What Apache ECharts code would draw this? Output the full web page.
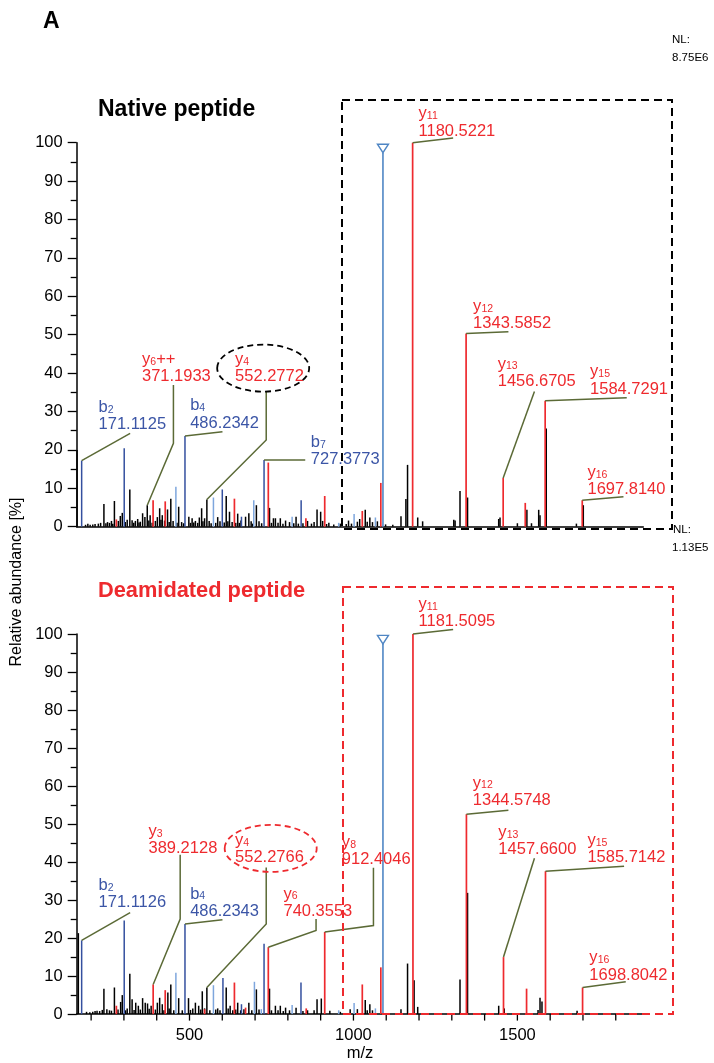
<!DOCTYPE html>
<html>
<head>
<meta charset="utf-8">
<title>Native vs deamidated peptide MS/MS</title>
<script src="https://cdn.jsdelivr.net/npm/echarts@6/dist/echarts.min.js"></script>
<style>
  html, body { margin: 0; padding: 0; background: #fff; }
  #chart { width: 714px; height: 1063px; }
</style>
</head>
<body>
<div id="chart"></div>
<script>
// x axis: m/z ticks and labels
const xTicks = [200, 300, 400, 500, 600, 700, 800, 900, 1000, 1100, 1200, 1300, 1400, 1500, 1600, 1700, 1800];
const xLabels = [500, 1000, 1500];

// peaks as [m/z, relative abundance %]
const nativeBlack = [[157, 20], [183, 0.5], [190, 0.8], [197, 0.5], [205, 0.6], [212, 0.7], [222, 0.8], [229, 1.0],
  [239, 5.9], [245, 0.9], [250, 1.2], [256, 1.0], [262, 1.5], [266, 0.8], [271, 6.7], [283, 1.5], [289, 2.8], [295, 3.6],
  [304, 1.2], [310, 1.8], [318, 9.7], [325, 1.7], [330, 1.0], [335, 1.5], [342, 2.0], [346, 1.1], [350, 1.3], [357, 3.5],
  [364, 2.5], [371.2, 5.6], [376, 1.6], [380, 3.0], [386, 1.0], [396, 1.5], [402, 2.5], [409, 4.8], [413, 1.8], [417, 3.0],
  [424, 1.6], [433, 4.5], [438, 1.2], [443, 7.3], [450, 1.5], [462, 1.0], [467, 5.2], [476, 1.2], [482, 0.9], [498, 2.6],
  [503, 1.0], [508, 2.2], [513, 1.1], [518, 1.5], [525, 1.0], [530, 2.4], [537, 4.8], [541, 1.4], [546, 2.2], [553, 7.1],
  [560, 1.5], [566, 0.9], [580, 1.0], [586, 2.5], [593, 1.4], [606, 1.1], [612, 8.0], [617, 1.4], [622, 3.9], [630, 1.2],
  [641, 1.0], [647, 3.4], [652, 1.0], [657, 1.6], [671, 2.6], [681, 3.5], [688, 1.4], [692, 0.8], [704, 5.6], [712, 1.4],
  [720, 0.9], [744, 4.9], [750, 1.0], [756, 2.2], [762, 2.2], [770, 1.0], [777, 2.2], [785, 0.8], [793, 1.6], [805, 1.2],
  [818, 0.9], [825, 2.6], [832, 0.8], [846, 0.9], [860, 1.5], [872, 0.8], [880, 1.2], [889, 4.5], [900, 3.9], [906, 1.5],
  [918, 0.7], [925, 1.0], [940, 0.6], [960, 0.8], [978, 0.7], [985, 1.6], [994, 0.8], [1012, 1.3], [1019, 2.0],
  [1036, 4.4], [1042, 1.3], [1050, 2.4], [1058, 1.2], [1073, 1.4], [1098, 0.6], [1120, 0.5], [1145, 2.7], [1160, 7.2],
  [1165, 16.1], [1196, 2.4], [1211, 1.4], [1306, 1.8], [1310, 1.6], [1325, 9.3], [1348, 7.6], [1443, 2.0], [1447, 2.4],
  [1500, 0.9], [1529, 4.4], [1543, 0.9], [1565, 4.4], [1569, 3.0], [1588, 25.6], [1680, 0.8], [1701, 5.6]];
const nativeRed = [[277, 1.9], [389, 6.9], [426, 6.6], [637, 7.3], [740.35, 16.7], [855, 2.2], [912.4, 8.0], [1027, 4.1],
  [1083.5, 11.4], [1180.52, 100], [1343.59, 50.3], [1456.67, 12.7], [1524, 6.2], [1584.73, 32.8], [1697.81, 6.9]];
const nativeBlue = [[171.11, 17.2], [300.9, 20.4], [486.23, 23.6], [600, 9.7], [658.5, 2.6], [727.38, 17.4], [840.5, 6.9]];
const nativeLight = [[458.5, 10.4], [573, 7.6], [696, 6.9], [813, 2.6], [955, 1.0], [1002, 3.3], [1067, 2.4]];

const deamBlack = [[161, 21.3], [186, 0.6], [196, 0.5], [205, 0.6], [212, 0.8], [218, 0.9], [226, 0.8], [234, 1.1],
  [239, 6.7], [248, 1.3], [256, 1.0], [262, 0.9], [271, 7.0], [282, 1.2], [290, 3.2], [295, 5.0], [305, 1.0], [310, 1.5],
  [318, 10.6], [325, 3.9], [331, 1.1], [336, 3.0], [344, 2.2], [350, 1.2], [357, 4.2], [365, 3.0], [372, 2.8], [377, 1.4],
  [383, 2.2], [396, 1.2], [402, 3.0], [409, 4.3], [417, 2.6], [422, 1.0], [434, 5.7], [438, 1.5], [443, 7.8], [452, 1.0],
  [467, 4.2], [478, 1.0], [497, 4.2], [503, 1.1], [510, 1.5], [518, 3.0], [528, 2.2], [534, 1.2], [539, 6.0], [546, 1.5],
  [553, 7.0], [562, 1.0], [580, 1.2], [586, 1.5], [593, 1.0], [612, 7.0], [618, 1.5], [624, 2.2], [632, 1.0], [641, 1.2],
  [647, 3.0], [656, 1.0], [666, 1.3], [681, 3.0], [690, 1.0], [704, 6.5], [712, 1.2], [744, 6.7], [750, 1.0], [762, 2.2],
  [770, 1.0], [777, 2.2], [786, 0.8], [793, 1.7], [805, 1.0], [825, 1.7], [846, 0.8], [860, 1.0], [880, 1.0], [889, 3.9],
  [902, 4.1], [928, 0.9], [960, 0.6], [990, 1.3], [1012, 1.3], [1036, 3.7], [1042, 1.0], [1050, 2.6], [1058, 1.0],
  [1145, 1.3], [1165, 13.3], [1185, 8.9], [1196, 1.9], [1325, 9.1], [1348, 31.9], [1443, 2.2], [1460, 1.5], [1563, 1.1],
  [1569, 4.3], [1575, 3.3], [1682, 0.9]];
const deamRed = [[277, 2.2], [389.21, 7.8], [426, 6.3], [546, 1.3], [637, 8.3], [671, 1.7], [740.36, 17.6], [856, 1.5],
  [912.4, 21.6], [1027, 7.8], [1083.5, 12.3], [1181.51, 100], [1344.57, 52.6], [1457.66, 15.0], [1528, 6.7],
  [1585.71, 37.6], [1698.8, 7.0]];
const deamBlue = [[171.11, 19.4], [300.9, 24.6], [486.23, 23.7], [602, 9.5], [658.5, 2.6], [727.38, 18.5], [840, 8.3]];
const deamLight = [[458.5, 10.9], [573, 7.6], [698, 8.5], [719, 1.3], [813, 2.4], [955, 1.0], [1002, 2.9], [1067, 1.5]];

// precursor ion (open triangle)
const nativePrecursor = [[1090, 97.4]];
const deamPrecursor = [[1090, 97.4]];

// annotated fragments: [letter, subscript, suffix, label, m/z, abundance]
const nativeIons = [
  ['b', '2', '', '171.1125', 171.11, 17.2],
  ['y', '6', '++', '371.1933', 371.2, 5.6],
  ['b', '4', '', '486.2342', 486.23, 23.6],
  ['y', '4', '', '552.2772', 553, 7.1],
  ['b', '7', '', '727.3773', 727.38, 17.4],
  ['y', '11', '', '1180.5221', 1180.52, 100],
  ['y', '12', '', '1343.5852', 1343.59, 50.3],
  ['y', '13', '', '1456.6705', 1456.67, 12.7],
  ['y', '15', '', '1584.7291', 1584.73, 32.8],
  ['y', '16', '', '1697.8140', 1697.81, 6.9]
];
const deamIons = [
  ['b', '2', '', '171.1126', 171.11, 19.4],
  ['y', '3', '', '389.2128', 389.21, 7.8],
  ['b', '4', '', '486.2343', 486.23, 23.7],
  ['y', '4', '', '552.2766', 553, 7.0],
  ['y', '6', '', '740.3553', 740.36, 17.6],
  ['y', '8', '', '912.4046', 912.4, 21.6],
  ['y', '11', '', '1181.5095', 1181.51, 100],
  ['y', '12', '', '1344.5748', 1344.57, 52.6],
  ['y', '13', '', '1457.6600', 1457.66, 15.0],
  ['y', '15', '', '1585.7142', 1585.71, 37.6],
  ['y', '16', '', '1698.8042', 1698.8, 7.0]
];

// label placement (data coords of the value line) and leader bends
const nativeLabelAt = [[222.6, 26.5], [355, 39], [502, 26.9], [639, 39], [870, 17.4], [1198.5, 103], [1365, 52.8],
  [1440, 37.8], [1721.6, 35.8], [1713.7, 9.6]];
const nativeLeaders = [[[319, 24.3]], [[451, 21.7], [451, 36.9]], [[600.6, 24.7]], [[734, 22.6], [734, 35.2]],
  [[853, 17.4]], [[1304, 101.2]], [[1472.6, 50.8]], [[1552, 35.2]], [[1833.5, 33.6]], [[1823.5, 7.8]]];
const deamLabelAt = [[222.6, 29.3], [375, 43.5], [502, 27], [639, 41.1], [786.6, 27], [964.6, 40.6], [1198.5, 103.2],
  [1364, 56.2], [1442, 43.2], [1713.5, 41.1], [1719.5, 10.2]];
const deamLeaders = [[[319, 26.7]], [[471.6, 25], [471.6, 41.9]], [[600.6, 24.8]], [[734, 23.7], [734, 38.6]],
  [[886, 22], [886, 25]], [[1061, 23.3], [1061, 38.5]], [[1304, 101.2]], [[1472.6, 53.6]], [[1552, 41]],
  [[1825.3, 38.9]], [[1830.5, 8.5]]];

// dashed ellipses round the y4 labels
const nativeRing = [[724.7, 41.3]];
const deamRing = [[747.6, 43.6]];

const FONT = "'Liberation Sans', Arial, Helvetica, sans-serif";
const RED = '#ee2a2e';
const BLUE = '#34509f';
const BLUE_TXT = '#3b55a6';
const LIGHT = '#7ea6dd';
const PREC = '#4f86c4';
const LEAD = '#5b6a36';

const txt = (x, y, text, color, size, extra) => ({
  type: 'text', x: x, y: y,
  style: Object.assign({ text: text, fill: color, fontSize: size, fontFamily: FONT, align: 'left', verticalAlign: 'middle' }, extra || {})
});

const peakSeries = (data, color, axis, width) => ({
  type: 'custom', xAxisIndex: axis, yAxisIndex: axis, data: data, silent: true, clip: false,
  encode: { x: 0, y: 1 },
  renderItem: (params, api) => {
    const base = api.coord([api.value(0), 0]);
    const top = api.coord([api.value(0), api.value(1)]);
    return { type: 'line', shape: { x1: base[0], y1: base[1], x2: top[0], y2: top[1] }, style: { stroke: color, lineWidth: width || 1.5 } };
  }
});

// tick marks under the bottom m/z axis
const tickSeries = (ticks, axis) => ({
  type: 'custom', xAxisIndex: axis, yAxisIndex: axis, data: ticks.map(v => [v, 0]), silent: true, clip: false, z: 3,
  encode: { x: 0, y: 1 },
  renderItem: (params, api) => {
    const p = api.coord([api.value(0), 0]);
    return { type: 'line', shape: { x1: p[0], y1: p[1], x2: p[0], y2: p[1] + 6.5 }, style: { stroke: '#000', lineWidth: 1.3 } };
  }
});

const precursorSeries = (data, axis) => ({
  type: 'custom', xAxisIndex: axis, yAxisIndex: axis, data: data, silent: true, clip: false, z: 4,
  encode: { x: 0, y: 1 },
  renderItem: (params, api) => {
    const base = api.coord([api.value(0), 0]);
    const top = api.coord([api.value(0), api.value(1)]);
    return {
      type: 'group', children: [
        { type: 'line', shape: { x1: base[0], y1: base[1], x2: top[0], y2: top[1] }, style: { stroke: PREC, lineWidth: 1.6 } },
        { type: 'polygon', shape: { points: [[top[0] - 5.5, top[1] - 8.5], [top[0] + 5.5, top[1] - 8.5], [top[0], top[1]]] },
          style: { stroke: PREC, fill: '#fff', lineWidth: 1.4 } }
      ]
    };
  }
});

const annotationSeries = (ions, labelAt, leaders, axis) => ({
  type: 'custom', xAxisIndex: axis, yAxisIndex: axis, silent: true, clip: false, z: 5,
  data: ions.map(d => [d[4], d[5]]),
  encode: { x: 0, y: 1 },
  renderItem: (params, api) => {
    const i = params.dataIndex;
    const ion = ions[i];
    const color = ion[0] === 'b' ? BLUE_TXT : RED;
    const pts = [api.coord([ion[4], ion[5]])].concat(leaders[i].map(p => api.coord(p)));
    const t = api.coord(labelAt[i]);
    const baseW = ion[0] === 'b' ? 9.2 : 8.3;
    const subW = ion[1].length * 5.9;
    const children = [
      { type: 'polyline', shape: { points: pts }, style: { stroke: LEAD, lineWidth: 1.5, fill: null } },
      txt(t[0], t[1], ion[3], color, 16.5),
      txt(t[0], t[1] - 17.5, ion[0], color, 16.5),
      txt(t[0] + baseW, t[1] - 15, ion[1], color, 10.5)
    ];
    if (ion[2]) {
      children.push(txt(t[0] + baseW + subW, t[1] - 17.5, ion[2], color, 16.5));
    }
    return { type: 'group', children: children };
  }
});

const ringSeries = (data, color, axis) => ({
  type: 'custom', xAxisIndex: axis, yAxisIndex: axis, data: data, silent: true, clip: false, z: 6,
  encode: { x: 0, y: 1 },
  renderItem: (params, api) => {
    const c = api.coord([api.value(0), api.value(1)]);
    return { type: 'ellipse', shape: { cx: c[0], cy: c[1], rx: 46, ry: 23.5 },
      style: { stroke: color, fill: null, lineWidth: 1.8, lineDash: [6, 4] } };
  }
});

const yAxisFor = (axis) => ({
  type: 'value', gridIndex: axis, min: 0, max: 100, interval: 10,
  axisLine: { show: true, lineStyle: { color: '#000', width: 1.5 } },
  axisTick: { show: true, length: 9, lineStyle: { color: '#000', width: 1.3 } },
  minorTick: { show: true, splitNumber: 2, length: 6, lineStyle: { color: '#000', width: 1.3 } },
  axisLabel: { color: '#000', fontSize: 16.5, fontFamily: FONT, margin: 14 },
  splitLine: { show: false }
});

const xAxisFor = (axis, withLabels) => ({
  type: 'value', gridIndex: axis, min: 156, max: 1884,
  axisLine: { show: true, onZero: false, lineStyle: { color: '#000', width: 1.5 } },
  axisTick: { show: false },
  axisLabel: { show: withLabels, customValues: xLabels, formatter: v => String(v),
    color: '#000', fontSize: 16.5, fontFamily: FONT, margin: 13 },
  splitLine: { show: false },
  name: withLabels ? 'm/z' : '', nameLocation: 'middle', nameGap: 29,
  nameTextStyle: { color: '#000', fontSize: 16.5, fontFamily: FONT }
});

const chart = echarts.init(document.getElementById('chart'), null, { renderer: 'canvas' });

chart.setOption({
  animation: false,
  backgroundColor: '#fff',
  grid: [
    { left: 76.7, right: 70.7, top: 142.7, height: 384 },
    { left: 76.7, right: 70.7, top: 634, height: 383.5 }
  ],
  xAxis: [xAxisFor(0, false), xAxisFor(1, true)],
  yAxis: [yAxisFor(0), yAxisFor(1)],
  series: [
    peakSeries(nativeBlack, '#000', 0),
    peakSeries(nativeLight, LIGHT, 0),
    peakSeries(nativeBlue, BLUE, 0),
    peakSeries(nativeRed, RED, 0, 1.7),
    precursorSeries(nativePrecursor, 0),
    annotationSeries(nativeIons, nativeLabelAt, nativeLeaders, 0),
    ringSeries(nativeRing, '#000', 0),
    peakSeries(deamBlack, '#000', 1),
    peakSeries(deamLight, LIGHT, 1),
    peakSeries(deamBlue, BLUE, 1),
    peakSeries(deamRed, RED, 1, 1.7),
    precursorSeries(deamPrecursor, 1),
    annotationSeries(deamIons, deamLabelAt, deamLeaders, 1),
    ringSeries(deamRing, RED, 1),
    tickSeries(xTicks, 1)
  ],
  graphic: [
    { type: 'text', left: 43, top: 10, style: { text: 'A', fontSize: 23, fontWeight: 'bold', fontFamily: FONT, fill: '#000' } },
    { type: 'text', left: 98, top: 98, style: { text: 'Native peptide', fontSize: 23, fontWeight: 'bold', fontFamily: FONT, fill: '#000' } },
    { type: 'text', left: 98, top: 580, style: { text: 'Deamidated peptide', fontSize: 21.8, fontWeight: 'bold', fontFamily: FONT, fill: RED } },
    { type: 'text', left: 672, top: 34, style: { text: 'NL:', fontSize: 11.5, fontFamily: FONT, fill: '#000' } },
    { type: 'text', left: 672, top: 52, style: { text: '8.75E6', fontSize: 11.5, fontFamily: FONT, fill: '#000' } },
    { type: 'text', left: 673, top: 524, style: { text: 'NL:', fontSize: 11.5, fontFamily: FONT, fill: '#000' } },
    { type: 'text', left: 672, top: 542, style: { text: '1.13E5', fontSize: 11.5, fontFamily: FONT, fill: '#000' } },
    { type: 'text', x: 17, y: 582, rotation: Math.PI / 2,
      style: { text: 'Relative abundance [%]', fontSize: 16, fontFamily: FONT, fill: '#000', align: 'center', verticalAlign: 'middle' } },
    { type: 'rect', shape: { x: 342, y: 100, width: 330, height: 429 }, z: 10,
      style: { fill: null, stroke: '#000', lineWidth: 2, lineDash: [8, 5] } },
    { type: 'rect', shape: { x: 343, y: 587, width: 330, height: 427 }, z: 10,
      style: { fill: null, stroke: RED, lineWidth: 2, lineDash: [8, 5] } }
  ]
});
</script>
</body>
</html>
